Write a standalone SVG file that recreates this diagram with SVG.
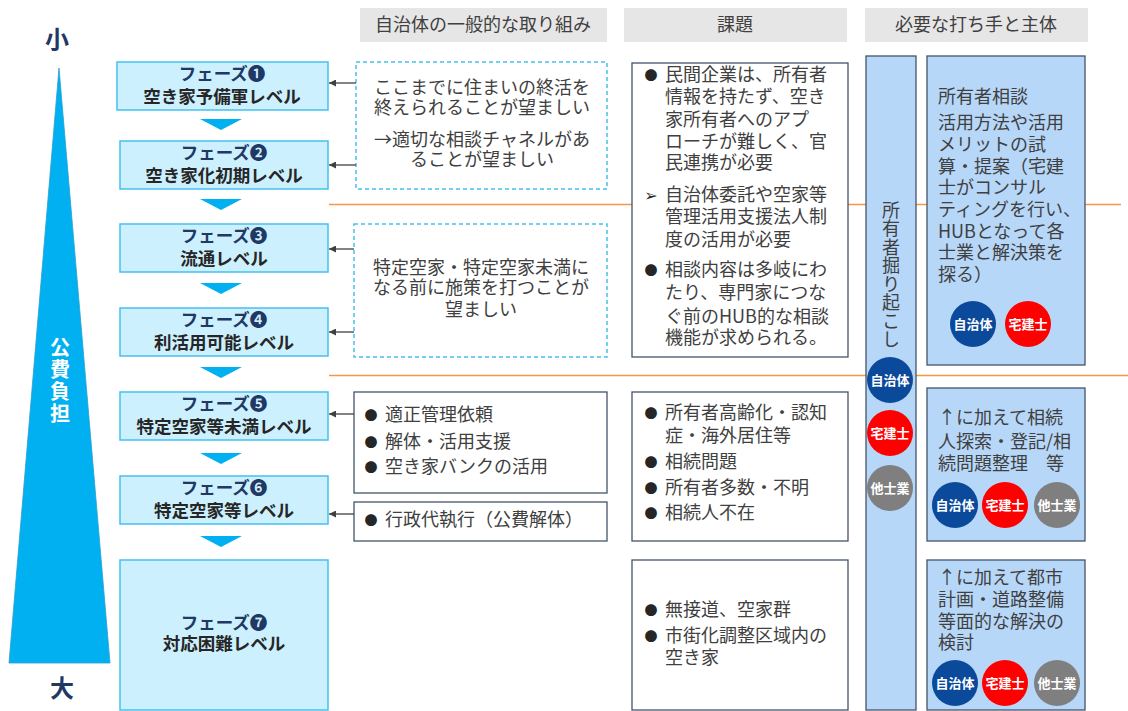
<svg xmlns="http://www.w3.org/2000/svg" width="1128" height="711" viewBox="0 0 1128 711">
<style>
text{font-family:"Noto Sans CJK JP","DejaVu Sans",sans-serif;}
.hdr{fill:#E7E6E6;}
.ht{font-size:18px;fill:#404040;text-anchor:middle;}
.ph{fill:#CCF0FD;stroke:#45C1F0;stroke-width:1.5;}
.pt{font-size:17.5px;font-weight:bold;text-anchor:middle;}
.p1{fill:#1F3864;}
.p2{fill:#262626;}
.dn{fill:#00B0F0;}
.dash{fill:#fff;stroke:#45C1F0;stroke-width:1.5;stroke-dasharray:4 3;}
.box{fill:#fff;stroke:#44546A;stroke-width:1.3;}
.bl{fill:#B7D7F9;stroke:#44546A;stroke-width:1.3;}
.t{font-size:18px;fill:#404040;}
.tc{font-size:18px;fill:#404040;text-anchor:middle;}
.bu{font-size:13px;fill:#262626;text-anchor:middle;}
.or{stroke:#F79646;stroke-width:1.5;}
.ar{stroke:#404040;stroke-width:1.3;fill:none;marker-end:url(#ah);}
.c1{fill:#0B4A9A;}
.c2{fill:#FF0000;}
.c3{fill:#7F7F7F;}
.ct{font-size:13px;font-weight:bold;fill:#fff;text-anchor:middle;}
.big{font-size:24px;font-weight:bold;fill:#1F3864;text-anchor:middle;}
.vt{writing-mode:vertical-rl;}
</style>
<defs>
<marker id="ah" viewBox="0 0 10 10" refX="10" refY="5" markerWidth="7" markerHeight="7" orient="auto" markerUnits="userSpaceOnUse">
<path d="M0,0 L10,5 L0,10 z" fill="#404040"/>
</marker>
</defs>
<rect width="1128" height="711" fill="#fff"/>

<!-- orange separators -->
<g id="separators">
<line class="or" x1="329" y1="204.5" x2="1121" y2="204.5"/>
<line class="or" x1="329" y1="375.5" x2="1128" y2="375.5"/>
</g>

<!-- scale triangle -->
<g id="scale">
<polygon points="59,68 110,663 9,663" fill="#00B0F0" stroke="#2A9FD0" stroke-width="0.8"/>
<text class="big" x="57" y="48">小</text>
<text class="big" x="62" y="697">大</text>
<text class="vt" x="60" y="337" font-size="20" font-weight="bold" fill="#fff" letter-spacing="2">公費負担</text>
</g>

<!-- headers -->
<g id="headers">
<rect class="hdr" x="360" y="8" width="247" height="34"/>
<text class="ht" x="483" y="31">自治体の一般的な取り組み</text>
<rect class="hdr" x="624" y="8" width="223" height="34"/>
<text class="ht" x="735" y="31">課題</text>
<rect class="hdr" x="865" y="8" width="223" height="34"/>
<text class="ht" x="976" y="31">必要な打ち手と主体</text>
</g>

<!-- phases -->
<g id="phase1"><rect class="ph" x="117" y="62" width="211" height="48"/>
<text class="pt"><tspan class="p1" x="222" y="80">フェーズ❶</tspan><tspan class="p2" x="222" y="103">空き家予備軍レベル</tspan></text></g>
<g id="phase2"><rect class="ph" x="120" y="141" width="208" height="48"/>
<text class="pt"><tspan class="p1" x="224" y="159">フェーズ❷</tspan><tspan class="p2" x="224" y="182">空き家化初期レベル</tspan></text></g>
<g id="phase3"><rect class="ph" x="120" y="224" width="208" height="48"/>
<text class="pt"><tspan class="p1" x="224" y="242">フェーズ❸</tspan><tspan class="p2" x="224" y="265">流通レベル</tspan></text></g>
<g id="phase4"><rect class="ph" x="120" y="308" width="208" height="48"/>
<text class="pt"><tspan class="p1" x="224" y="326">フェーズ❹</tspan><tspan class="p2" x="224" y="349">利活用可能レベル</tspan></text></g>
<g id="phase5"><rect class="ph" x="120" y="392" width="208" height="48"/>
<text class="pt"><tspan class="p1" x="224" y="410">フェーズ❺</tspan><tspan class="p2" x="224" y="433">特定空家等未満レベル</tspan></text></g>
<g id="phase6"><rect class="ph" x="120" y="476" width="208" height="48"/>
<text class="pt"><tspan class="p1" x="224" y="494">フェーズ❻</tspan><tspan class="p2" x="224" y="517">特定空家等レベル</tspan></text></g>
<g id="phase7"><rect class="ph" x="120" y="560" width="208" height="150"/>
<text class="pt"><tspan class="p1" x="224" y="629">フェーズ❼</tspan><tspan class="p2" x="224" y="650">対応困難レベル</tspan></text></g>

<!-- down arrows between phases -->
<g id="flow">
<polygon class="dn" points="200,119 242,119 221,130"/>
<polygon class="dn" points="200,199 242,199 221,210"/>
<polygon class="dn" points="200,283 242,283 221,294"/>
<polygon class="dn" points="200,367 242,367 221,378"/>
<polygon class="dn" points="200,453 242,453 221,464"/>
<polygon class="dn" points="200,536 242,536 221,547"/>
</g>

<!-- municipal measures -->
<g id="measure1"><rect class="dash" x="356" y="62" width="251" height="127"/>
<text class="tc"><tspan x="482" y="94">ここまでに住まいの終活を</tspan><tspan x="482" y="114">終えられることが望ましい</tspan><tspan x="482" y="146">→適切な相談チャネルがあ</tspan><tspan x="482" y="166">ることが望ましい</tspan></text></g>
<g id="measure2"><rect class="dash" x="354" y="224" width="253" height="133"/>
<text class="tc"><tspan x="481" y="274">特定空家・特定空家未満に</tspan><tspan x="481" y="294">なる前に施策を打つことが</tspan><tspan x="481" y="316">望ましい</tspan></text></g>
<g id="measure3"><rect class="box" x="354" y="392" width="253" height="101"/>
<text class="bu"><tspan x="371" y="420">●</tspan><tspan x="371" y="447">●</tspan><tspan x="371" y="472">●</tspan></text>
<text class="t"><tspan x="385" y="421">適正管理依頼</tspan><tspan x="385" y="448">解体・活用支援</tspan><tspan x="385" y="473">空き家バンクの活用</tspan></text></g>
<g id="measure4"><rect class="box" x="354" y="502" width="253" height="39"/>
<text class="bu" x="371" y="525">●</text><text class="t" x="385" y="526">行政代執行（公費解体）</text></g>

<!-- connectors -->
<g id="connectors">
<line class="ar" x1="356" y1="83" x2="329" y2="83"/>
<line class="ar" x1="356" y1="165" x2="329" y2="165"/>
<line class="ar" x1="354" y1="249" x2="329" y2="249"/>
<line class="ar" x1="354" y1="332" x2="329" y2="332"/>
<line class="ar" x1="354" y1="414" x2="329" y2="414"/>
<line class="ar" x1="354" y1="514" x2="329" y2="514"/>
</g>

<!-- issues -->
<g id="issue1"><rect class="box" x="632" y="63" width="216" height="294"/>
<text class="bu"><tspan x="651" y="80">●</tspan><tspan x="651" y="201" font-size="16">➢</tspan><tspan x="651" y="275">●</tspan></text>
<text class="t"><tspan x="665" y="81">民間企業は、所有者</tspan><tspan x="665" y="103">情報を持たず、空き</tspan><tspan x="665" y="126">家所有者へのアプ</tspan><tspan x="665" y="148">ローチが難しく、官</tspan><tspan x="665" y="169">民連携が必要</tspan><tspan x="665" y="201">自治体委託や空家等</tspan><tspan x="665" y="223">管理活用支援法人制</tspan><tspan x="665" y="246">度の活用が必要</tspan><tspan x="665" y="276">相談内容は多岐にわ</tspan><tspan x="665" y="299">たり、専門家につな</tspan><tspan x="665" y="323">ぐ前のHUB的な相談</tspan><tspan x="665" y="344">機能が求められる。</tspan></text></g>
<g id="issue2"><rect class="box" x="632" y="392" width="216" height="149"/>
<text class="bu"><tspan x="651" y="418">●</tspan><tspan x="651" y="467">●</tspan><tspan x="651" y="493">●</tspan><tspan x="651" y="518">●</tspan></text>
<text class="t"><tspan x="665" y="419">所有者高齢化・認知</tspan><tspan x="665" y="442">症・海外居住等</tspan><tspan x="665" y="468">相続問題</tspan><tspan x="665" y="494">所有者多数・不明</tspan><tspan x="665" y="519">相続人不在</tspan></text></g>
<g id="issue3"><rect class="box" x="632" y="560" width="216" height="150"/>
<text class="bu"><tspan x="651" y="615">●</tspan><tspan x="651" y="641">●</tspan></text>
<text class="t"><tspan x="665" y="616">無接道、空家群</tspan><tspan x="665" y="642">市街化調整区域内の</tspan><tspan x="665" y="664">空き家</tspan></text></g>

<!-- owner discovery column -->
<g id="owner-discovery"><rect class="bl" x="866" y="56" width="50" height="654"/>
<text class="vt" x="891" y="201" font-size="18" fill="#404040" letter-spacing="0.5">所有者掘り起こし</text>
<circle class="c1" cx="890" cy="380" r="23"/><text class="ct" x="890" y="385">自治体</text>
<circle class="c2" cx="890" cy="433" r="23"/><text class="ct" x="890" y="438">宅建士</text>
<circle class="c3" cx="890" cy="488" r="23"/><text class="ct" x="890" y="493">他士業</text></g>

<!-- action boxes -->
<g id="action1"><rect class="bl" x="927" y="56" width="158" height="309"/>
<text class="t"><tspan x="938" y="103">所有者相談</tspan><tspan x="938" y="129">活用方法や活用</tspan><tspan x="938" y="151">メリットの試</tspan><tspan x="938" y="173">算・提案（宅建</tspan><tspan x="938" y="194">士がコンサル</tspan><tspan x="938" y="216">ティングを行い、</tspan><tspan x="938" y="238">HUBとなって各</tspan><tspan x="938" y="259">士業と解決策を</tspan><tspan x="938" y="281">探る）</tspan></text>
<circle class="c1" cx="973" cy="324" r="23"/><text class="ct" x="973" y="329">自治体</text>
<circle class="c2" cx="1028" cy="324" r="23"/><text class="ct" x="1028" y="329">宅建士</text></g>
<g id="action2"><rect class="bl" x="927" y="388" width="158" height="153"/>
<text class="t"><tspan x="938" y="424">↑に加えて相続</tspan><tspan x="938" y="448">人探索・登記/相</tspan><tspan x="938" y="470">続問題整理　等</tspan></text>
<circle class="c1" cx="955" cy="505" r="23"/><text class="ct" x="955" y="510">自治体</text>
<circle class="c2" cx="1005" cy="505" r="23"/><text class="ct" x="1005" y="510">宅建士</text>
<circle class="c3" cx="1057" cy="505" r="23"/><text class="ct" x="1057" y="510">他士業</text></g>
<g id="action3"><rect class="bl" x="927" y="560" width="158" height="150"/>
<text class="t"><tspan x="938" y="584">↑に加えて都市</tspan><tspan x="938" y="606">計画・道路整備</tspan><tspan x="938" y="628">等面的な解決の</tspan><tspan x="938" y="649">検討</tspan></text>
<circle class="c1" cx="955" cy="683" r="23"/><text class="ct" x="955" y="688">自治体</text>
<circle class="c2" cx="1005" cy="683" r="23"/><text class="ct" x="1005" y="688">宅建士</text>
<circle class="c3" cx="1057" cy="683" r="23"/><text class="ct" x="1057" y="688">他士業</text></g>
</svg>
